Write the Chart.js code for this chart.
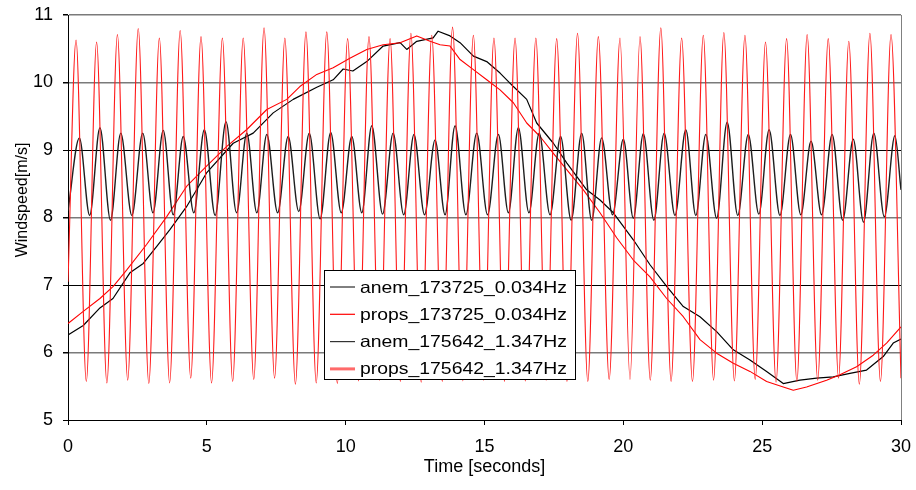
<!DOCTYPE html>
<html>
<head>
<meta charset="utf-8">
<script src="https://cdn.jsdelivr.net/npm/chart.js@4/dist/chart.umd.min.js"></script>
<style>
  html, body { margin: 0; padding: 0; background: #fff; }
  #wrap { width: 916px; height: 490px; }
</style>
</head>
<body>
<div id="wrap"><canvas id="chart"></canvas></div>
<script>
// slow run, 0.034 Hz
const anemSlowT = [0, 0.55, 1.15, 1.62, 2.23, 2.71, 3.19, 3.67, 4.27, 4.99, 5.95, 6.67, 7.39, 8.11, 8.96, 9.55, 9.91, 10.26, 10.76, 11.35, 11.96, 12.20, 12.56, 13.15, 13.33, 13.76, 14.12, 14.60, 15.08, 15.56, 16.04, 16.52, 16.88, 17.48, 17.96, 18.68, 19.16, 19.64, 20.36, 20.96, 21.56, 22.16, 22.76, 23.36, 23.96, 24.56, 25.16, 25.76, 26.36, 26.96, 27.56, 28.16, 28.76, 29.36, 29.72, 30];
const anemSlowV = [6.26, 6.40, 6.66, 6.80, 7.18, 7.32, 7.57, 7.82, 8.16, 8.66, 9.10, 9.25, 9.55, 9.75, 9.93, 10.04, 10.20, 10.17, 10.31, 10.54, 10.59, 10.49, 10.61, 10.66, 10.76, 10.69, 10.59, 10.39, 10.31, 10.14, 9.94, 9.75, 9.40, 9.10, 8.81, 8.41, 8.26, 8.07, 7.67, 7.30, 6.98, 6.68, 6.53, 6.31, 6.04, 5.89, 5.72, 5.54, 5.59, 5.62, 5.64, 5.69, 5.74, 5.94, 6.14, 6.20];

const propsSlowT = [0, 0.55, 1.15, 1.63, 2.11, 2.83, 3.55, 4.27, 4.99, 5.71, 6.43, 7.16, 7.88, 8.35, 8.96, 9.55, 10.15, 10.76, 11.35, 11.96, 12.56, 13.04, 13.40, 13.76, 14.12, 14.60, 15.08, 15.56, 16.04, 16.52, 17.00, 17.48, 17.96, 18.56, 19.16, 19.76, 20.36, 20.96, 21.56, 22.16, 22.76, 23.36, 23.96, 24.56, 25.16, 25.76, 26.12, 26.60, 27.32, 27.80, 28.40, 29.00, 29.48, 30];
const propsSlowV = [6.43, 6.61, 6.80, 6.98, 7.22, 7.60, 8.01, 8.46, 8.76, 9.05, 9.30, 9.60, 9.75, 9.94, 10.12, 10.22, 10.36, 10.49, 10.56, 10.59, 10.69, 10.61, 10.56, 10.54, 10.34, 10.19, 10.04, 9.89, 9.70, 9.40, 9.20, 8.95, 8.71, 8.41, 8.07, 7.70, 7.37, 7.12, 6.80, 6.53, 6.19, 5.99, 5.84, 5.72, 5.57, 5.49, 5.44, 5.49, 5.59, 5.67, 5.79, 5.96, 6.14, 6.38];

// fast run, 1.347 Hz: peaks, troughs and the two end values
const anemFastPeakT = [0.41, 1.15, 1.90, 2.69, 3.43, 4.15, 4.91, 5.69, 6.44, 7.16, 7.93, 8.69, 9.46, 10.22, 10.94, 11.71, 12.46, 13.22, 13.94, 14.72, 15.50, 16.22, 16.97, 17.74, 18.50, 19.22, 20.00, 20.72, 21.47, 22.25, 22.97, 23.74, 24.50, 25.25, 26.02, 26.76, 27.52, 28.28, 29.02, 29.78];
const anemFastPeakV = [9.18, 9.33, 9.25, 9.25, 9.29, 9.20, 9.30, 9.42, 9.25, 9.23, 9.20, 9.25, 9.26, 9.20, 9.36, 9.25, 9.23, 9.15, 9.36, 9.25, 9.23, 9.33, 9.25, 9.20, 9.25, 9.18, 9.16, 9.24, 9.25, 9.30, 9.23, 9.41, 9.23, 9.30, 9.23, 9.13, 9.23, 9.16, 9.25, 9.21];
const anemFastTroughT = [0.78, 1.53, 2.30, 3.06, 3.79, 4.53, 5.30, 6.07, 6.80, 7.55, 8.31, 9.08, 9.84, 10.58, 11.33, 12.09, 12.84, 13.58, 14.33, 15.11, 15.86, 16.60, 17.36, 18.12, 18.86, 19.61, 20.36, 21.10, 21.86, 22.61, 23.36, 24.12, 24.88, 25.64, 26.39, 27.14, 27.90, 28.65, 29.40];
const anemFastTroughV = [8.03, 7.96, 8.03, 8.07, 8.04, 8.07, 8.03, 8.07, 8.07, 8.07, 8.09, 7.98, 8.07, 8.07, 8.05, 8.04, 8.04, 8.04, 8.04, 8.04, 8.07, 8.07, 8.04, 7.96, 7.96, 8.04, 7.99, 7.96, 8.03, 8.03, 7.99, 8.03, 8.05, 8.03, 8.04, 8.04, 7.96, 7.93, 8.01];
const anemFastEndT = [0, 30];
const anemFastEndV = [8.10, 8.41];

const propsFastPeakT = [0.29, 1.03, 1.78, 2.53, 3.29, 4.04, 4.79, 5.56, 6.31, 7.06, 7.81, 8.57, 9.32, 10.07, 10.84, 11.60, 12.35, 13.10, 13.85, 14.60, 15.34, 16.10, 16.85, 17.60, 18.35, 19.10, 19.88, 20.60, 21.35, 22.10, 22.88, 23.62, 24.38, 25.12, 25.88, 26.62, 27.38, 28.12, 28.88, 29.64];
const propsFastPeakV = [10.63, 10.60, 10.71, 10.80, 10.66, 10.77, 10.68, 10.66, 10.66, 10.81, 10.66, 10.75, 10.75, 10.65, 10.68, 10.65, 10.73, 10.70, 10.82, 10.70, 10.66, 10.66, 10.66, 10.65, 10.73, 10.68, 10.66, 10.68, 10.81, 10.66, 10.70, 10.74, 10.70, 10.60, 10.65, 10.71, 10.65, 10.61, 10.73, 10.71];
const propsFastTroughT = [0.66, 1.40, 2.15, 2.91, 3.66, 4.42, 5.17, 5.93, 6.69, 7.44, 8.19, 8.94, 9.70, 10.46, 11.22, 11.97, 12.72, 13.48, 14.22, 14.97, 15.72, 16.47, 17.22, 17.97, 18.72, 19.49, 20.24, 20.97, 21.72, 22.49, 23.25, 24.00, 24.75, 25.50, 26.25, 27.00, 27.75, 28.50, 29.26];
const propsFastTroughV = [5.57, 5.55, 5.59, 5.54, 5.55, 5.62, 5.55, 5.57, 5.60, 5.62, 5.53, 5.55, 5.54, 5.58, 5.59, 5.57, 5.56, 5.57, 5.58, 5.59, 5.57, 5.58, 5.59, 5.57, 5.57, 5.60, 5.60, 5.59, 5.57, 5.57, 5.59, 5.58, 5.60, 5.56, 5.57, 5.59, 5.62, 5.53, 5.57];
const propsFastEndT = [0, 30];
const propsFastEndV = [7.05, 5.62];

const seriesNames = ['anem_173725_0.034Hz', 'props_173725_0.034Hz', 'anem_175642_1.347Hz', 'props_175642_1.347Hz'];
const xTicks = [0, 5, 10, 15, 20, 25, 30];

function toPoints(ts, vs) {
  return ts.map((t, i) => ({ x: t, y: vs[i] }));
}

function mergePoints(...pairs) {
  let pts = [];
  for (const [ts, vs] of pairs) pts = pts.concat(toPoints(ts, vs));
  return pts.sort((a, b) => a.x - b.x);
}

Chart.defaults.font.family = '"Liberation Sans", Arial, sans-serif';
Chart.defaults.color = '#000';

// legend box inside the plot + rotated y title
const legendStyles = [
  { color: '#000000', width: 1 },
  { color: '#ff0000', width: 1.2 },
  { color: '#333333', width: 1.2 },
  { color: '#ff6a6a', width: 3 }
];

const boxLegend = {
  id: 'boxLegend',
  afterDraw(chart) {
    const ctx = chart.ctx;
    ctx.save();

    ctx.fillStyle = '#000';
    ctx.font = '16px "Liberation Sans", Arial, sans-serif';
    ctx.textAlign = 'center';
    ctx.textBaseline = 'middle';
    ctx.translate(23, 200);
    ctx.rotate(-Math.PI / 2);
    ctx.fillText('Windspeed[m/s]', 0, 0);
    ctx.setTransform(1, 0, 0, 1, 0, 0);

    const left = 324.5, top = 270.5, w = 251, h = 109;
    ctx.fillStyle = '#fff';
    ctx.fillRect(left, top, w, h);
    ctx.strokeStyle = '#000';
    ctx.lineWidth = 1;
    ctx.strokeRect(left, top, w, h);

    chart.data.datasets.forEach((ds, i) => {
      const y = 287 + i * 27.3;
      const st = legendStyles[i];
      ctx.strokeStyle = st.color;
      ctx.lineWidth = st.width;
      ctx.beginPath();
      ctx.moveTo(330, y);
      ctx.lineTo(355, y);
      ctx.stroke();

      ctx.save();
      ctx.translate(360, y);
      ctx.scale(1.175, 1);
      ctx.fillStyle = '#000';
      ctx.font = '16.5px "Liberation Sans", Arial, sans-serif';
      ctx.textAlign = 'left';
      ctx.textBaseline = 'middle';
      ctx.fillText(ds.label, 0, 1);
      ctx.restore();
    });
    ctx.restore();
  }
};

new Chart(document.getElementById('chart'), {
  type: 'line',
  data: {
    datasets: [
      {
        label: seriesNames[0],
        data: toPoints(anemSlowT, anemSlowV),
        borderColor: '#000000',
        borderWidth: 1.2,
        order: 3
      },
      {
        label: seriesNames[1],
        data: toPoints(propsSlowT, propsSlowV),
        borderColor: '#ff0000',
        borderWidth: 1.1,
        order: 2
      },
      {
        label: seriesNames[2],
        data: mergePoints([anemFastPeakT, anemFastPeakV], [anemFastTroughT, anemFastTroughV], [anemFastEndT, anemFastEndV]),
        borderColor: '#1e1e1e',
        borderWidth: 1.4,
        cubicInterpolationMode: 'monotone',
        order: 1
      },
      {
        label: seriesNames[3],
        data: mergePoints([propsFastPeakT, propsFastPeakV], [propsFastTroughT, propsFastTroughV], [propsFastEndT, propsFastEndV]),
        borderColor: '#ff1a1a',
        borderWidth: 1.1,
        cubicInterpolationMode: 'monotone',
        order: 0
      }
    ]
  },
  options: {
    responsive: true,
    maintainAspectRatio: false,
    animation: false,
    layout: { padding: { top: 15, right: 15, left: 0, bottom: 0 } },
    elements: {
      point: { radius: 0 },
      line: { borderJoinStyle: 'round', fill: false }
    },
    plugins: {
      legend: { display: false },
      tooltip: { enabled: false }
    },
    scales: {
      x: {
        type: 'linear',
        min: 0,
        max: 30,
        afterBuildTicks: s => { s.ticks = xTicks.map(v => ({ value: v })); },
        ticks: { font: { size: 18 }, padding: 11, maxRotation: 0 },
        grid: {
          color: c => (c.tick && c.tick.value === 30 ? '#808080' : 'rgba(0,0,0,0)'),
          tickColor: '#000',
          tickLength: 5
        },
        border: { color: '#000' },
        title: {
          display: true,
          text: 'Time [seconds]',
          font: { size: 18 },
          padding: { top: 0, bottom: 12 }
        },
        afterFit: s => {
          s.height = 70;
          s.paddingLeft = 0;
          s.paddingRight = 0;
        }
      },
      y: {
        min: 5,
        max: 11,
        ticks: { stepSize: 1, font: { size: 18 }, padding: 10 },
        grid: {
          color: c => (c.tick && (c.tick.value === 7 || c.tick.value === 9 || c.tick.value === 5) ? '#000' : '#7a7a7a'),
          lineWidth: c => (c.tick && (c.tick.value === 7 || c.tick.value === 9 || c.tick.value === 5) ? 1 : 1.5),
          tickColor: '#000',
          tickLength: 5
        },
        border: { color: '#000' },
        afterFit: s => {
          s.width = 68;
          s.paddingTop = 0;
          s.paddingBottom = 0;
        }
      }
    }
  },
  plugins: [boxLegend]
});
</script>
</body>
</html>
